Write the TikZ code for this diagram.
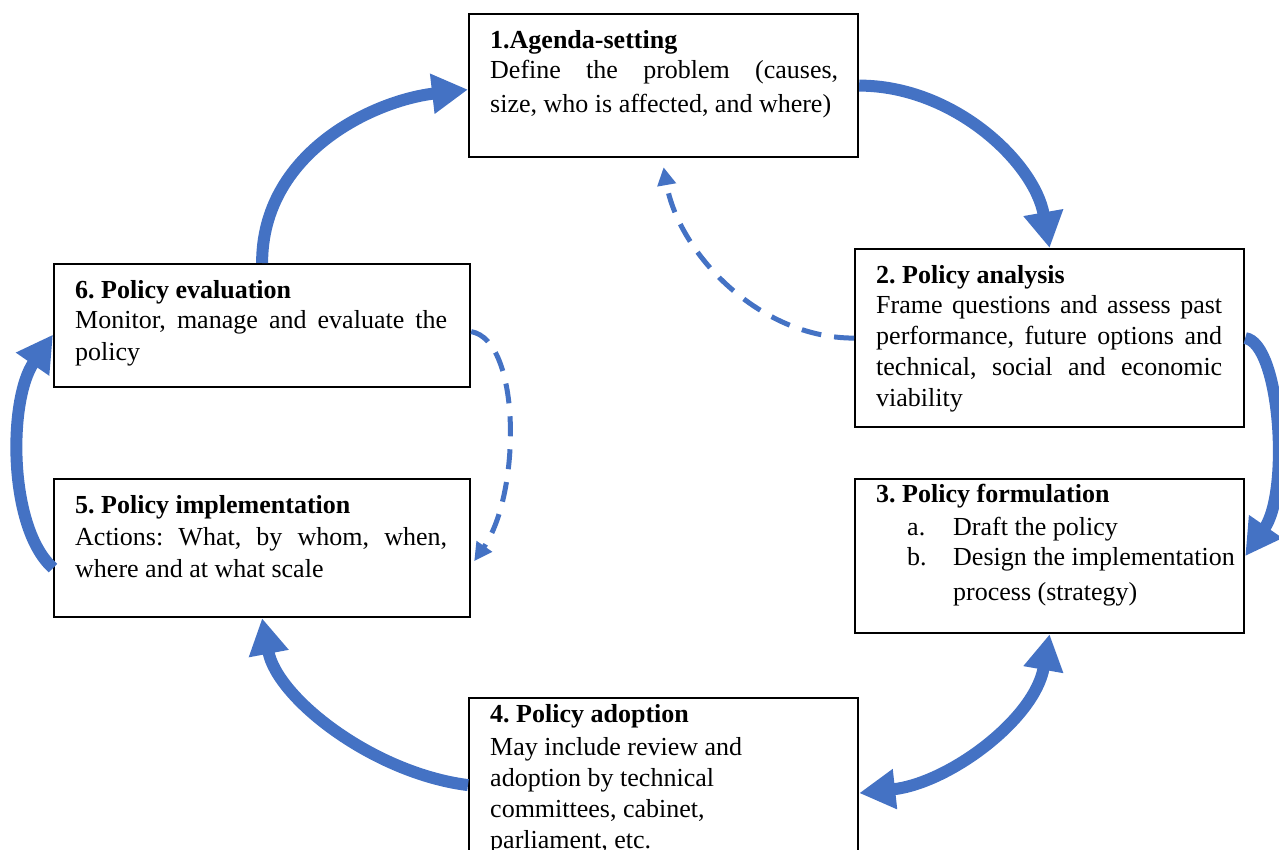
\documentclass[tikz,border=0pt]{standalone}
\usepackage{fontspec}
\setmainfont{Liberation Serif}
\usetikzlibrary{arrows.meta,calc}
\definecolor{flowblue}{HTML}{4472C4}
\frenchspacing
\begin{document}
\begin{tikzpicture}[x=1pt,y=-1pt,
  stagebox/.style={draw=black, line width=2.2pt, fill=white, inner sep=0pt, anchor=north west},
  stagetext/.style={inner sep=0pt, anchor=north west, align=left, font=\fontsize{26}{31}\selectfont},
  cyclearrow/.style={draw=flowblue, line width=12pt, -{Triangle[length=36pt,width=38pt]}},
  bothways/.style={draw=flowblue, line width=12pt, {Triangle[length=36pt,width=38pt]}-{Triangle[length=36pt,width=38pt]}},
  feedback/.style={draw=flowblue, line width=5pt, dash pattern=on 20pt off 13pt, -{Triangle[length=18pt,width=18pt]}}
]
\useasboundingbox (0,0) rectangle (1279,850);

% stage boxes
\node[stagebox, minimum width=389pt, minimum height=143pt] (b1) at (468,13) {};
\node[stagebox, minimum width=389pt, minimum height=178pt] (b2) at (854,248) {};
\node[stagebox, minimum width=389pt, minimum height=154pt] (b3) at (854,478) {};
\node[stagebox, minimum width=389pt, minimum height=180pt] (b4) at (468,697) {};
\node[stagebox, minimum width=416pt, minimum height=138pt] (b5) at (53,478) {};
\node[stagebox, minimum width=416pt, minimum height=123pt] (b6) at (53,263) {};

% stage texts
\node[stagetext] (t1) at ($(b1.north west)+(22,10)$) {\rule{0pt}{25pt}\textbf{1.Agenda-setting}\\[-1pt]
\makebox[348pt][s]{Define the problem (causes,}\\[3pt]
size, who is affected, and where)};

\node[stagetext] (t2) at ($(b2.north west)+(22,10)$) {\rule{0pt}{25pt}\textbf{2. Policy analysis}\\[-1pt]
\makebox[346pt][s]{Frame questions and assess past}\\
\makebox[346pt][s]{performance, future options and}\\
\makebox[346pt][s]{technical, social and economic}\\
viability};

\node[stagetext] (t3) at ($(b3.north west)+(22,-1)$) {\rule{0pt}{25pt}\textbf{3. Policy formulation}\\[2pt]
\hspace*{31pt}\makebox[46pt][l]{a.}Draft the policy\\[-1pt]
\hspace*{31pt}\makebox[46pt][l]{b.}Design the implementation\\[4pt]
\hspace*{77pt}process (strategy)};

\node[stagetext] (t4) at ($(b4.north west)+(22,0)$) {\rule{0pt}{25pt}\textbf{4. Policy adoption}\\[2pt]
May include review and\\
adoption by technical\\
committees, cabinet,\\
parliament, etc.};

\node[stagetext] (t5) at ($(b5.north west)+(22,10)$) {\rule{0pt}{25pt}\textbf{5. Policy implementation}\\[1pt]
\makebox[372pt][s]{Actions: What, by whom, when,}\\[1pt]
where and at what scale};

\node[stagetext] (t6) at ($(b6.north west)+(22,10)$) {\rule{0pt}{25pt}\textbf{6. Policy evaluation}\\[-1pt]
\makebox[372pt][s]{Monitor, manage and evaluate the}\\[1pt]
policy};

% main cycle
\draw[cyclearrow] (b6.north) .. controls ($(b6.north)+(0,-110)$) and ($(b1.west)+(-95,15)$) .. ($(b1.west)+(0,4)$);
\draw[cyclearrow] (b1.east) .. controls ($(b1.east)+(95,0)$) and ($(b2.north)+(-15,-85)$) .. (b2.north);
\draw[cyclearrow] (b2.east) .. controls ($(b2.east)+(35,5)$) and ($(b3.east)+(45,-65)$) .. (b3.east);
\draw[bothways] ($(b4.east)+(0,5)$) .. controls ($(b4.east)+(90,-5)$) and ($(b3.south)+(-15,85)$) .. (b3.south);
\draw[cyclearrow] ($(b4.west)+(0,-3)$) .. controls ($(b4.west)+(-95,-15)$) and ($(b5.south)+(15,80)$) .. (b5.south);
\draw[cyclearrow] ($(b5.west)+(0,20)$) .. controls ($(b5.west)+(-45,-20)$) and ($(b6.west)+(-45,74)$) .. ($(b6.west)+(0,9)$);

% feedback loops
\draw[feedback] (b2.west) .. controls ($(b2.west)+(-95,0)$) and ($(b1.south)+(15,95)$) .. ($(b1.south)+(0,9)$);
\draw[feedback] ($(b6.east)+(0,6)$) .. controls ($(b6.east)+(50,15)$) and ($(b5.east)+(50,-55)$) .. ($(b5.east)+(3,13)$);
\end{tikzpicture}
\end{document}
